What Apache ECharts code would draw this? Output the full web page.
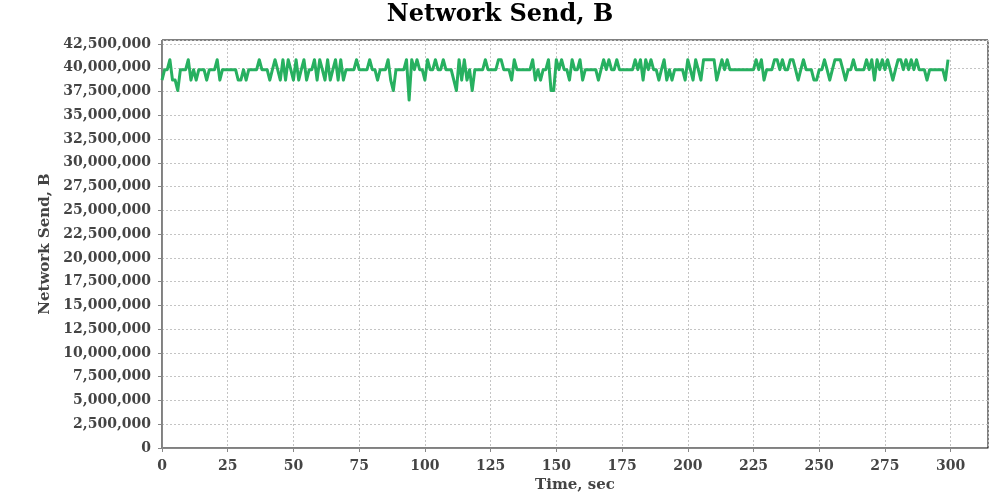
<!DOCTYPE html>
<html>
<head>
<meta charset="utf-8">
<script src="https://cdn.jsdelivr.net/npm/echarts@6/dist/echarts.min.js"></script>
<style>html,body{margin:0;padding:0;background:#fff}#chart{width:1000px;height:500px}</style>
</head>
<body>
<div id="chart"></div>
<script>
// Network Send, B — one sample per second (index = time in sec)
var send_0_49 = [
38700000,39800000,39800000,40850000,38700000,38700000,37600000,39800000,39800000,39800000,
40850000,38700000,39800000,38700000,39800000,39800000,39800000,38700000,39800000,39800000,
39800000,40850000,38700000,39800000,39800000,39800000,39800000,39800000,39800000,38700000,
38700000,39800000,38700000,39800000,39800000,39800000,39800000,40850000,39800000,39800000,
39800000,38700000,39800000,40850000,39800000,38700000,40850000,38700000,40850000,39800000];
var send_50_99 = [
38700000,40850000,38700000,39800000,40850000,38700000,39800000,39800000,40850000,38700000,
40850000,39800000,38700000,40850000,38700000,39800000,40850000,38700000,40850000,38700000,
39800000,39800000,39800000,39800000,40850000,39800000,39800000,39800000,39800000,40850000,
39800000,39800000,38700000,39800000,39800000,39800000,40850000,38700000,37600000,39800000,
39800000,39800000,39800000,40850000,36600000,40850000,39800000,40850000,39800000,39800000];
var send_100_149 = [
38700000,40850000,39800000,39800000,40850000,39800000,39800000,40850000,39800000,39800000,
39800000,38700000,37600000,40850000,38700000,40850000,38700000,39800000,37600000,39800000,
39800000,39800000,39800000,40850000,39800000,39800000,39800000,39800000,40850000,40850000,
39800000,39800000,39800000,38700000,40850000,39800000,39800000,39800000,39800000,39800000,
39800000,40850000,38700000,39800000,38700000,39800000,39800000,40850000,37600000,37600000];
var send_150_199 = [
40850000,39800000,40850000,39800000,39800000,38700000,40850000,39800000,39800000,40850000,
38700000,39800000,39800000,39800000,39800000,39800000,38700000,39800000,40850000,39800000,
40850000,39800000,39800000,40850000,39800000,39800000,39800000,39800000,39800000,39800000,
40850000,39800000,40850000,38700000,40850000,39800000,40850000,39800000,39800000,38700000,
39800000,40850000,38700000,39800000,38700000,39800000,39800000,39800000,39800000,38700000];
var send_200_249 = [
40850000,39800000,38700000,40850000,39800000,38700000,40850000,40850000,40850000,40850000,
40850000,38700000,39800000,40850000,39800000,40850000,39800000,39800000,39800000,39800000,
39800000,39800000,39800000,39800000,39800000,39800000,40850000,39800000,40850000,38700000,
39800000,39800000,39800000,40850000,40850000,39800000,40850000,39800000,39800000,40850000,
40850000,39800000,38700000,39800000,40850000,39800000,39800000,39800000,38700000,38700000];
var send_250_299 = [
39800000,39800000,40850000,39800000,38700000,39800000,40850000,40850000,40850000,39800000,
38700000,39800000,39800000,40850000,39800000,39800000,39800000,39800000,40850000,39800000,
40850000,38700000,40850000,39800000,40850000,39800000,40850000,39800000,38700000,39800000,
40850000,40850000,39800000,40850000,39800000,40850000,39800000,40850000,39800000,39800000,
39800000,38700000,39800000,39800000,39800000,39800000,39800000,39800000,38700000,40850000];

var sendValues = [].concat(send_0_49, send_50_99, send_100_149, send_150_199, send_200_249, send_250_299);
var seriesData = sendValues.map(function (v, i) { return [i, v]; });

var FONT = 'DejaVu Serif';
var chart = echarts.init(document.getElementById('chart'), null, {renderer: 'canvas'});
chart.setOption({
  animation: false,
  backgroundColor: '#ffffff',
  title: {
    text: 'Network Send, B',
    left: 'center',
    top: -2,
    textStyle: {fontFamily: FONT, fontWeight: 'bold', fontSize: 24, color: '#000'}
  },
  grid: {left: 162, right: 12, top: 40, bottom: 52, show: true, borderColor: '#000', borderWidth: 1, backgroundColor: '#fff'},
  xAxis: {
    type: 'value', min: 0, max: 314.2, interval: 25, offset: 5,
    name: 'Time, sec', nameLocation: 'middle', nameGap: 21,
    nameTextStyle: {fontFamily: FONT, fontWeight: 'bold', fontSize: 15, color: '#444'},
    axisLine: {show: true, lineStyle: {color: '#888', width: 1}},
    axisTick: {show: true, length: 4, lineStyle: {color: '#888'}},
    axisLabel: {margin: 6, fontFamily: FONT, fontWeight: 'bold', fontSize: 14, color: '#444', showMaxLabel: false},
    splitLine: {show: true, lineStyle: {color: '#c4c4c4', type: [2, 2], width: 1}}
  },
  yAxis: {
    type: 'value', min: 0, max: 42920000, interval: 2500000, offset: 5,
    name: 'Network Send, B', nameLocation: 'middle', nameGap: 103,
    nameTextStyle: {fontFamily: FONT, fontWeight: 'bold', fontSize: 15, color: '#444'},
    axisLine: {show: true, lineStyle: {color: '#888', width: 1}},
    axisTick: {show: true, length: 4, lineStyle: {color: '#888'}},
    axisLabel: {margin: 6, fontFamily: FONT, fontWeight: 'bold', fontSize: 14, color: '#444', showMaxLabel: false,
      formatter: function (v) { return Math.round(v).toLocaleString('en-US'); }},
    splitLine: {show: true, lineStyle: {color: '#c4c4c4', type: [2, 2], width: 1}}
  },
  series: [{
    type: 'line', data: seriesData, showSymbol: false, symbol: 'none',
    lineStyle: {color: '#27b060', width: 3, join: 'round'},
    itemStyle: {color: '#27b060'}
  }]
});
</script>
</body>
</html>
